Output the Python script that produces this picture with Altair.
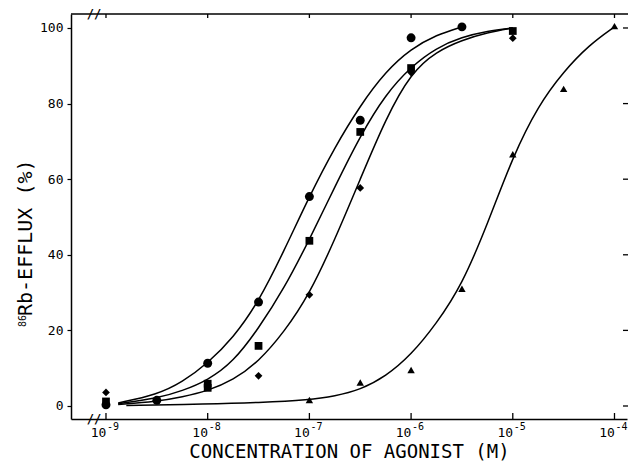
import altair as alt
import pandas as pd

# log10 of agonist concentration (M) and efflux (%)
circle_x = [-9, -8.5, -8, -7.5, -7, -6.5, -6, -5.5]
circle_y = [0.3, 1.5, 11.3, 27.5, 55.4, 75.6, 97.4, 100.3]
square_x = [-9, -8, -8, -7.5, -7, -6.5, -6, -5]
square_y = [1.2, 5.9, 4.8, 15.9, 43.7, 72.5, 89.4, 99.2]
diamond_x = [-9, -7.5, -7, -6.5, -6, -5]
diamond_y = [3.6, 8.0, 29.4, 57.7, 88.2, 97.3]
triangle_x = [-7, -6.5, -6, -5.5, -5, -4.5, -4]
triangle_y = [1.6, 6.2, 9.5, 31.0, 66.6, 83.9, 100.5]

# fitted curves
c_circle_x = [-8.88, -8.5, -8.25, -8, -7.75, -7.5, -7.25, -7, -6.75, -6.5, -6.25, -6, -5.75, -5.5]
c_circle_y = [0.8, 3.0, 6.3, 11.3, 18.0, 27.5, 41, 55.5, 68.5, 79.5, 88.5, 94.5, 98.2, 100.3]
c_square_x = [-8.88, -8.5, -8.25, -8, -7.75, -7.5, -7.25, -7, -6.75, -6.5, -6.25, -6, -5.75, -5.5, -5.25, -5]
c_square_y = [0.6, 2.0, 4.0, 6.8, 11.6, 20.5, 31, 44, 58, 71.5, 82.5, 89.8, 94.8, 97.6, 99.2, 100]
c_diamond_x = [-8.88, -8.5, -8.25, -8, -7.75, -7.5, -7.25, -7, -6.75, -6.5, -6.25, -6, -5.75, -5.5, -5.25, -5]
c_diamond_y = [0.4, 1.2, 2.4, 4.0, 6.8, 11.7, 19.5, 29.5, 44, 60, 76, 88.2, 93.8, 96.8, 98.8, 100]
c_tri_x = [-8.8, -8, -7.5, -7, -6.75, -6.5, -6.25, -6, -5.75, -5.5, -5.25, -5, -4.75, -4.5, -4.25, -4]
c_tri_y = [0.1, 0.5, 0.9, 1.6, 2.6, 4.3, 7.8, 13.5, 21.8, 32, 48, 66, 79.5, 88.5, 95.5, 100.3]

decades = [-9, -8, -7, -6, -5, -4]
exponents = ["-9", "-8", "-7", "-6", "-5", "-4"]
y_ticks = [0, 20, 40, 60, 80, 100]
x_title = "CONCENTRATION OF AGONIST (M)"
y_title_sup = "86"
y_title_main = "Rb-EFFLUX (%)"

FONT = "DejaVu Sans Mono"
XDOM = [-9.344, -3.877]
YDOM = [-3.44, 103.7]

xs = alt.Scale(domain=XDOM, nice=False, zero=False)
ys = alt.Scale(domain=YDOM, nice=False, zero=False)

curves = pd.concat([
    pd.DataFrame({"s": "circle", "x": c_circle_x, "y": c_circle_y}),
    pd.DataFrame({"s": "square", "x": c_square_x, "y": c_square_y}),
    pd.DataFrame({"s": "diamond", "x": c_diamond_x, "y": c_diamond_y}),
    pd.DataFrame({"s": "triangle", "x": c_tri_x, "y": c_tri_y}),
])

x_axis = alt.Axis(
    values=decades, labelExpr="'10'",
    ticks=False, grid=False, labelFont=FONT, labelFontSize=13, labelColor="black",
    labelPadding=7, labelOffset=-8, domainColor="black", domainWidth=1.5,
    title=x_title, titleFont=FONT, titleFontSize=19,
    titleFontWeight="normal", titleColor="black", titlePadding=3,
    labelFlush=False, labelOverlap=False,
)
y_axis = alt.Axis(
    values=y_ticks, tickSize=4, tickColor="black", tickWidth=1.2, grid=False,
    labelFont=FONT, labelFontSize=13, labelColor="black", labelPadding=4,
    domainColor="black", domainWidth=1.5, title=None,
)

lines = alt.Chart(curves).mark_line(
    color="black", strokeWidth=1.5, interpolate="basis"
).encode(
    x=alt.X("x:Q", scale=xs, axis=x_axis),
    y=alt.Y("y:Q", scale=ys, axis=y_axis),
    detail="s:N",
)

def pts(xv, yv, shape, size):
    return alt.Chart(pd.DataFrame({"x": xv, "y": yv})).mark_point(
        shape=shape, filled=True, color="black", size=size, opacity=1
    ).encode(x=alt.X("x:Q", scale=xs), y=alt.Y("y:Q", scale=ys))

p_circle = pts(circle_x, circle_y, "circle", 80)
p_square = pts(square_x, square_y, "square", 60)
p_diamond = pts(diamond_x, diamond_y, "diamond", 60)
p_tri = pts(triangle_x, triangle_y, "triangle-up", 55)

# tick label exponents
exp_txt = alt.Chart(pd.DataFrame({"x": decades, "t": exponents})).mark_text(
    font=FONT, fontSize=10, color="black", align="left", baseline="alphabetic", dx=1
).encode(x=alt.X("x:Q", scale=xs), y=alt.value(416), text="t:N")

# y-axis title with superscript
ytitle_main = alt.Chart(pd.DataFrame({"t": [y_title_main]})).mark_text(
    font=FONT, fontSize=20, color="black", angle=270, align="left", baseline="alphabetic"
).encode(x=alt.value(-39), y=alt.value(302), text="t:N")
ytitle_sup = alt.Chart(pd.DataFrame({"t": [y_title_sup]})).mark_text(
    font=FONT, fontSize=10, color="black", angle=270, align="left", baseline="alphabetic"
).encode(x=alt.value(-45), y=alt.value(313), text="t:N")

# frame decorations: top line, inward ticks, axis breaks
top_line = alt.Chart(pd.DataFrame({"a": [0]})).mark_rule(
    color="black", strokeWidth=1.5
).encode(x=alt.value(0), x2=alt.value(557), y=alt.value(0))

dec_df = pd.DataFrame({"x": decades})
bottom_ticks = alt.Chart(dec_df).mark_rule(color="black", strokeWidth=1.3).encode(
    x=alt.X("x:Q", scale=xs), y=alt.value(399), y2=alt.value(406))
top_ticks = alt.Chart(dec_df).mark_rule(color="black", strokeWidth=1.3).encode(
    x=alt.X("x:Q", scale=xs), y=alt.value(0), y2=alt.value(4))
right_ticks = alt.Chart(pd.DataFrame({"y": y_ticks})).mark_rule(
    color="black", strokeWidth=1.3
).encode(y=alt.Y("y:Q", scale=ys), x=alt.value(552), x2=alt.value(557))

brk = alt.Chart(pd.DataFrame({"t": ["//", "//"], "yy": [405, 0]})).mark_text(
    font=FONT, fontSize=12, fontWeight="bold", color="black"
).encode(text="t:N", x=alt.value(23), y=alt.Y("yy:Q", scale=None))

chart = alt.layer(
    lines, p_circle, p_square, p_diamond, p_tri, exp_txt, ytitle_main, ytitle_sup,
    top_line, bottom_ticks, top_ticks, right_ticks, brk,
).properties(
    width=556, height=405,
    autosize=alt.AutoSizeParams(type="none"),
    padding={"left": 71, "top": 14, "right": 1, "bottom": 43},
    background="white",
).configure_view(stroke=None)

chart.save("out.html", embed_options={"renderer": "svg", "actions": False})
